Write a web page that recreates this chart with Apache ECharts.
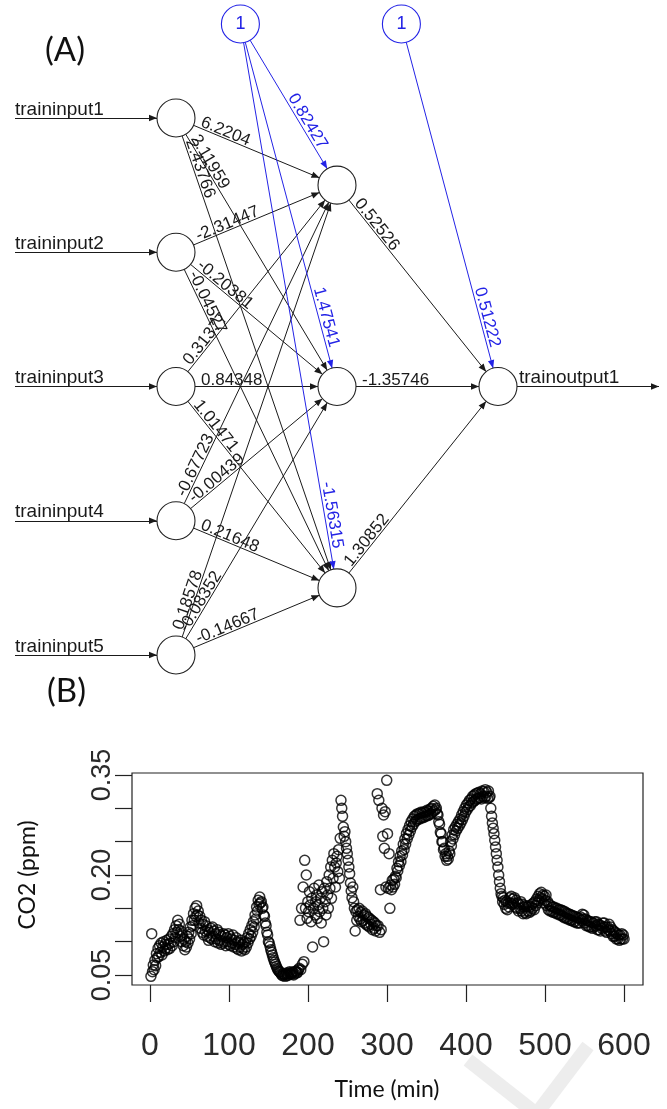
<!DOCTYPE html>
<html>
<head>
<meta charset="utf-8">
<title>Neural network and CO2 scatter</title>
<script src="https://cdn.jsdelivr.net/npm/echarts@6.0.0/dist/echarts.min.js"></script>
<style>
  html, body { margin: 0; padding: 0; background: #fff; }
  #chart { width: 667px; height: 1109px; }
</style>
</head>
<body>
<div id="chart"></div>
<script>
// ---- (A) network: layout in layer units, weights as printed ----
const inputNames = ['traininput1', 'traininput2', 'traininput3', 'traininput4', 'traininput5'];
const outputName = 'trainoutput1';
const inputRows = [0, 1, 2, 3, 4];
const hiddenRows = [0.5, 2, 3.5];
const outputRow = 2;
const layerCols = [0, 1, 2];      // input, hidden, output
const biasCols = [0.4, 1.4];
const biasRow = -0.7;
const entryCol = -1;
const exitCol = 3;

// rows: input node, columns: hidden node
const inputHiddenWeights = [
  [6.2204, 2.11959, 2.43766],
  [-2.31447, -0.20381, -0.04527],
  [0.31377, 0.84348, 1.01471],
  [-0.67723, -0.00439, 0.21648],
  [0.18578, -0.08352, -0.14667]
];
const biasHiddenWeights = [0.82427, 1.47541, -1.56315];
const hiddenOutputWeights = [0.52526, -1.35746, 1.30852];
const biasOutputWeight = 0.51222;

// ---- (B) CO2, one reading per minute ----
const timeMin = [
  0, 1, 2, 3, 4, 5, 6, 7, 8, 9, 10, 11, 12, 13, 14, 15, 16, 17, 18, 19,
  20, 21, 22, 23, 24, 25, 26, 27, 28, 29, 30, 31, 32, 33, 34, 35, 36, 37, 38, 39,
  40, 41, 42, 43, 44, 45, 46, 47, 48, 49, 50, 51, 52, 53, 54, 55, 56, 57, 58, 59,
  60, 61, 62, 63, 64, 65, 66, 67, 68, 69, 70, 71, 72, 73, 74, 75, 76, 77, 78, 79,
  80, 81, 82, 83, 84, 85, 86, 87, 88, 89, 90, 91, 92, 93, 94, 95, 96, 97, 98, 99,
  100, 101, 102, 103, 104, 105, 106, 107, 108, 109, 110, 111, 112, 113, 114, 115, 116, 117, 118, 119,
  120, 121, 122, 123, 124, 125, 126, 127, 128, 129, 130, 131, 132, 133, 134, 135, 136, 137, 138, 139,
  140, 141, 142, 143, 144, 145, 146, 147, 148, 149, 150, 151, 152, 153, 154, 155, 156, 157, 158, 159,
  160, 161, 162, 163, 164, 165, 166, 167, 168, 169, 170, 171, 172, 173, 174, 175, 176, 177, 178, 179,
  180, 181, 182, 183, 184, 185, 186, 187, 188, 189, 190, 191, 192, 193, 194, 195, 196, 197, 198, 199,
  200, 201, 202, 203, 204, 205, 206, 207, 208, 209, 210, 211, 212, 213, 214, 215, 216, 217, 218, 219,
  220, 221, 222, 223, 224, 225, 226, 227, 228, 229, 230, 231, 232, 233, 234, 235, 236, 237, 238, 239,
  240, 241, 242, 243, 244, 245, 246, 247, 248, 249, 250, 251, 252, 253, 254, 255, 256, 257, 258, 259,
  260, 261, 262, 263, 264, 265, 266, 267, 268, 269, 270, 271, 272, 273, 274, 275, 276, 277, 278, 279,
  280, 281, 282, 283, 284, 285, 286, 287, 288, 289, 290, 291, 292, 293, 294, 295, 296, 297, 298, 299,
  300, 301, 302, 303, 304, 305, 306, 307, 308, 309, 310, 311, 312, 313, 314, 315, 316, 317, 318, 319,
  320, 321, 322, 323, 324, 325, 326, 327, 328, 329, 330, 331, 332, 333, 334, 335, 336, 337, 338, 339,
  340, 341, 342, 343, 344, 345, 346, 347, 348, 349, 350, 351, 352, 353, 354, 355, 356, 357, 358, 359,
  360, 361, 362, 363, 364, 365, 366, 367, 368, 369, 370, 371, 372, 373, 374, 375, 376, 377, 378, 379,
  380, 381, 382, 383, 384, 385, 386, 387, 388, 389, 390, 391, 392, 393, 394, 395, 396, 397, 398, 399,
  400, 401, 402, 403, 404, 405, 406, 407, 408, 409, 410, 411, 412, 413, 414, 415, 416, 417, 418, 419,
  420, 421, 422, 423, 424, 425, 426, 427, 428, 429, 430, 431, 432, 433, 434, 435, 436, 437, 438, 439,
  440, 441, 442, 443, 444, 445, 446, 447, 448, 449, 450, 451, 452, 453, 454, 455, 456, 457, 458, 459,
  460, 461, 462, 463, 464, 465, 466, 467, 468, 469, 470, 471, 472, 473, 474, 475, 476, 477, 478, 479,
  480, 481, 482, 483, 484, 485, 486, 487, 488, 489, 490, 491, 492, 493, 494, 495, 496, 497, 498, 499,
  500, 501, 502, 503, 504, 505, 506, 507, 508, 509, 510, 511, 512, 513, 514, 515, 516, 517, 518, 519,
  520, 521, 522, 523, 524, 525, 526, 527, 528, 529, 530, 531, 532, 533, 534, 535, 536, 537, 538, 539,
  540, 541, 542, 543, 544, 545, 546, 547, 548, 549, 550, 551, 552, 553, 554, 555, 556, 557, 558, 559,
  560, 561, 562, 563, 564, 565, 566, 567, 568, 569, 570, 571, 572, 573, 574, 575, 576, 577, 578, 579,
  580, 581, 582, 583, 584, 585, 586, 587, 588, 589, 590, 591, 592, 593, 594, 595, 596, 597, 598, 599,
  600
];
const co2Ppm = [
  0.048, 0.112, 0.055, 0.065, 0.058, 0.072, 0.064, 0.082, 0.076, 0.090,
  0.078, 0.094, 0.084, 0.098, 0.080, 0.092, 0.100, 0.086, 0.096, 0.090,
  0.102, 0.088, 0.096, 0.104, 0.090, 0.098, 0.108, 0.094, 0.112, 0.100,
  0.118, 0.106, 0.124, 0.114, 0.132, 0.118, 0.126, 0.108, 0.116, 0.100,
  0.110, 0.094, 0.104, 0.088, 0.100, 0.092, 0.108, 0.098, 0.114, 0.104,
  0.122, 0.112, 0.132, 0.124, 0.142, 0.132, 0.150, 0.138, 0.154, 0.140,
  0.146, 0.128, 0.138, 0.120, 0.132, 0.114, 0.126, 0.110, 0.130, 0.116,
  0.124, 0.108, 0.118, 0.102, 0.114, 0.106, 0.120, 0.104, 0.122, 0.108,
  0.116, 0.100, 0.112, 0.104, 0.118, 0.098, 0.114, 0.102, 0.110, 0.096,
  0.108, 0.098, 0.112, 0.100, 0.110, 0.094, 0.106, 0.100, 0.112, 0.096,
  0.108, 0.094, 0.104, 0.098, 0.110, 0.092, 0.102, 0.096, 0.106, 0.090,
  0.100, 0.088, 0.098, 0.092, 0.102, 0.086, 0.096, 0.090, 0.098, 0.088,
  0.100, 0.092, 0.106, 0.098, 0.112, 0.104, 0.118, 0.108, 0.124, 0.114,
  0.130, 0.122, 0.140, 0.134, 0.152, 0.146, 0.162, 0.156, 0.167, 0.158,
  0.160, 0.150, 0.152, 0.140, 0.138, 0.128, 0.124, 0.114, 0.110, 0.100,
  0.098, 0.093, 0.088, 0.084, 0.080, 0.076, 0.072, 0.069, 0.066, 0.063,
  0.060, 0.058, 0.056, 0.055, 0.054, 0.052, 0.050, 0.049, 0.052, 0.050,
  0.048, 0.051, 0.053, 0.049, 0.050, 0.053, 0.055, 0.052, 0.051, 0.054,
  0.054, 0.050, 0.052, 0.055, 0.056, 0.053, 0.054, 0.058, 0.060, 0.132,
  0.058, 0.150, 0.066, 0.182, 0.070, 0.222, 0.150, 0.200, 0.135, 0.160,
  0.145, 0.175, 0.155, 0.130, 0.165, 0.092, 0.150, 0.180, 0.140, 0.160,
  0.170, 0.135, 0.155, 0.185, 0.145, 0.165, 0.128, 0.175, 0.150, 0.100,
  0.180, 0.160, 0.140, 0.190, 0.170, 0.150, 0.200, 0.180, 0.212, 0.165,
  0.222, 0.195, 0.232, 0.212, 0.182, 0.218, 0.228, 0.205, 0.238, 0.195,
  0.255, 0.312, 0.300, 0.288, 0.272, 0.258, 0.265, 0.250, 0.240, 0.232,
  0.222, 0.212, 0.202, 0.188, 0.176, 0.166, 0.182, 0.160, 0.150, 0.116,
  0.145, 0.132, 0.148, 0.138, 0.150, 0.134, 0.144, 0.130, 0.146, 0.132,
  0.140, 0.128, 0.142, 0.126, 0.138, 0.124, 0.136, 0.122, 0.134, 0.126,
  0.132, 0.118, 0.130, 0.120, 0.128, 0.116, 0.124, 0.322, 0.124, 0.312,
  0.114, 0.178, 0.118, 0.300, 0.258, 0.290, 0.240, 0.295, 0.182, 0.342,
  0.262, 0.180, 0.232, 0.150, 0.185, 0.178, 0.192, 0.182, 0.194, 0.186,
  0.198, 0.196, 0.210, 0.206, 0.220, 0.214, 0.228, 0.220, 0.236, 0.230,
  0.246, 0.238, 0.254, 0.246, 0.262, 0.254, 0.268, 0.260, 0.274, 0.266,
  0.280, 0.272, 0.284, 0.276, 0.288, 0.280, 0.290, 0.282, 0.292, 0.284,
  0.292, 0.284, 0.294, 0.286, 0.293, 0.286, 0.295, 0.287, 0.294, 0.289,
  0.297, 0.289, 0.296, 0.290, 0.299, 0.292, 0.300, 0.294, 0.303, 0.296,
  0.305, 0.298, 0.300, 0.292, 0.290, 0.280, 0.276, 0.264, 0.262, 0.250,
  0.250, 0.238, 0.240, 0.228, 0.232, 0.222, 0.228, 0.224, 0.236, 0.232,
  0.250, 0.244, 0.260, 0.254, 0.268, 0.260, 0.272, 0.266, 0.276, 0.270,
  0.280, 0.274, 0.284, 0.278, 0.290, 0.283, 0.295, 0.288, 0.300, 0.294,
  0.305, 0.298, 0.308, 0.302, 0.312, 0.304, 0.314, 0.308, 0.318, 0.310,
  0.320, 0.312, 0.322, 0.314, 0.323, 0.315, 0.324, 0.316, 0.322, 0.314,
  0.326, 0.318, 0.325, 0.316, 0.328, 0.318, 0.324, 0.315, 0.326, 0.316,
  0.318, 0.300, 0.288, 0.278, 0.270, 0.262, 0.252, 0.242, 0.232, 0.222,
  0.212, 0.200, 0.190, 0.180, 0.172, 0.168, 0.160, 0.166, 0.156, 0.162,
  0.150, 0.160, 0.148, 0.158, 0.152, 0.166, 0.158, 0.168, 0.156, 0.164,
  0.158, 0.166, 0.152, 0.162, 0.150, 0.158, 0.146, 0.156, 0.150, 0.160,
  0.146, 0.156, 0.142, 0.152, 0.144, 0.154, 0.142, 0.152, 0.146, 0.154,
  0.144, 0.152, 0.146, 0.156, 0.150, 0.158, 0.148, 0.160, 0.154, 0.164,
  0.158, 0.168, 0.162, 0.172, 0.166, 0.174, 0.164, 0.170, 0.158, 0.168,
  0.162, 0.170, 0.154, 0.160, 0.148, 0.156, 0.146, 0.154, 0.146, 0.152,
  0.144, 0.152, 0.144, 0.150, 0.142, 0.150, 0.142, 0.148, 0.140, 0.148,
  0.140, 0.147, 0.138, 0.146, 0.136, 0.145, 0.136, 0.143, 0.134, 0.142,
  0.134, 0.141, 0.132, 0.140, 0.132, 0.139, 0.130, 0.138, 0.130, 0.137,
  0.128, 0.136, 0.128, 0.135, 0.128, 0.137, 0.132, 0.141, 0.134, 0.140,
  0.128, 0.134, 0.124, 0.132, 0.124, 0.131, 0.122, 0.130, 0.122, 0.129,
  0.120, 0.128, 0.122, 0.130, 0.124, 0.130, 0.118, 0.126, 0.118, 0.125,
  0.116, 0.124, 0.120, 0.128, 0.122, 0.128, 0.116, 0.122, 0.114, 0.122,
  0.118, 0.126, 0.116, 0.122, 0.112, 0.118, 0.108, 0.116, 0.108, 0.114,
  0.104, 0.112, 0.104, 0.110, 0.102, 0.110, 0.104, 0.112, 0.104, 0.110,
  0.104
];
const yTickLabels = ['0.05', '0.20', '0.35'];

const BLUE = '#2323e6';
const INK = '#1a1a1a';
const TICK_FONT = "'Liberation Sans', Arial, sans-serif";
const TITLE_FONT = "Lato, 'Open Sans', sans-serif";
// triangle head whose tip sits at the symbol centre
const ARROW = 'path://M0,0L0,0M20,20L20,20M10,10L14,20L6,20Z';

// build graph nodes
const nodes = [];
inputNames.forEach((name, i) => {
  nodes.push({ name: 'entry' + i, value: [entryCol, inputRows[i]], symbol: 'none', symbolSize: 0 });
  nodes.push({ name: 'in' + i, value: [layerCols[0], inputRows[i]] });
});
hiddenRows.forEach((r, j) => nodes.push({ name: 'h' + j, value: [layerCols[1], r] }));
nodes.push({ name: 'out', value: [layerCols[2], outputRow] });
nodes.push({ name: 'exit', value: [exitCol, outputRow], symbol: 'none', symbolSize: 0 });
biasCols.forEach((c, k) => nodes.push({
  name: 'b' + k, value: [c, biasRow],
  itemStyle: { borderColor: BLUE },
  label: { show: true, formatter: '1', color: BLUE, fontSize: 18, fontFamily: 'Arial' }
}));

function edge(source, target, text, color, position, distance, fontSize) {
  return {
    source, target,
    symbol: ['none', ARROW], symbolSize: [0, 16],
    lineStyle: { color, width: 1, opacity: 1, curveness: 0 },
    label: {
      show: true, formatter: String(text), position, distance,
      color, fontSize: fontSize || 17, fontFamily: 'Arial'
    }
  };
}

const links = [];
inputNames.forEach((name, i) => links.push(edge('entry' + i, 'in' + i, name, INK, 'insideStartTop', [0, -1], 19)));
inputHiddenWeights.forEach((row, i) => row.forEach((w, j) =>
  links.push(edge('in' + i, 'h' + j, w, INK, 'insideStartTop', [25, -2]))));
biasHiddenWeights.forEach((w, j) => links.push(edge('b0', 'h' + j, w, BLUE, 'insideEndTop', [20, -1])));
hiddenOutputWeights.forEach((w, j) => links.push(edge('h' + j, 'out', w, INK, 'insideStartTop', [25, -2])));
links.push(edge('b1', 'out', biasOutputWeight, BLUE, 'insideEndTop', [20, -1]));
links.push(edge('out', 'exit', outputName, INK, 'insideStartTop', [21, -1], 19));

const chart = echarts.init(document.getElementById('chart'));
chart.setOption({
  animation: false,
  backgroundColor: '#fff',
  graphic: [
    { type: 'text', x: 45, y: 50, style: { text: '(A)', fontSize: 33, fontFamily: TITLE_FONT, fill: '#111', verticalAlign: 'middle' } },
    { type: 'text', x: 47, y: 691, style: { text: '(B)', fontSize: 33, fontFamily: TITLE_FONT, fill: '#111', verticalAlign: 'middle' } },
    // faint watermark stroke at the bottom
    { type: 'polyline', silent: true, z: -1, shape: { points: [[468, 1060], [534, 1112]] }, style: { stroke: '#ededed', lineWidth: 14, fill: null } },
    { type: 'polyline', silent: true, z: -1, shape: { points: [[588, 1046], [538, 1112]] }, style: { stroke: '#ededed', lineWidth: 14, fill: null } }
  ],
  grid: [
    { left: 15, top: 10.6, width: 644, height: 671.25 },
    { left: 132, top: 773, width: 511, height: 212, show: true, borderColor: '#222', borderWidth: 1.2, backgroundColor: 'transparent' },
    { left: 150, top: 773, width: 474, height: 212 },
    { left: 132, top: 775, width: 511, height: 200 }
  ],
  xAxis: [
    { gridIndex: 0, type: 'value', min: entryCol, max: exitCol, show: false },
    { gridIndex: 1, type: 'value', min: -24, max: 624, show: false },
    {
      gridIndex: 2, type: 'value', min: 0, max: 600, interval: 100,
      axisLine: { show: false },
      axisTick: { show: true, inside: false, length: 17, lineStyle: { color: '#222', width: 1.2 } },
      axisLabel: { show: true, fontSize: 32, fontFamily: TICK_FONT, color: '#2a2a2a', margin: 45 },
      splitLine: { show: false },
      name: 'Time (min)', nameLocation: 'middle', nameGap: 93,
      nameTextStyle: { fontSize: 23, fontFamily: TITLE_FONT, color: '#111' }
    },
    { gridIndex: 3, type: 'value', show: false, min: 0, max: 1 }
  ],
  yAxis: [
    { gridIndex: 0, type: 'value', min: -0.8, max: 4.2, inverse: true, show: false },
    { gridIndex: 1, type: 'value', min: 0.035, max: 0.353, show: false },
    { gridIndex: 2, type: 'value', show: false, min: 0, max: 1 },
    {
      gridIndex: 3, type: 'value', min: 0.05, max: 0.35, interval: 0.05,
      axisLine: { show: false },
      axisTick: { show: true, inside: false, length: 17, lineStyle: { color: '#222', width: 1.2 } },
      axisLabel: {
        show: true, rotate: 90, fontSize: 27, fontFamily: TICK_FONT, color: '#2a2a2a', margin: 16,
        formatter: v => (yTickLabels.includes(v.toFixed(2)) ? v.toFixed(2) : '')
      },
      splitLine: { show: false },
      name: 'CO2 (ppm)', nameLocation: 'middle', nameGap: 93, nameRotate: 90,
      nameTextStyle: { fontSize: 23, fontFamily: TITLE_FONT, color: '#111' }
    }
  ],
  series: [
    {
      type: 'graph',
      coordinateSystem: 'cartesian2d',
      xAxisIndex: 0, yAxisIndex: 0,
      silent: true,
      symbol: 'circle',
      symbolSize: 38,
      itemStyle: { color: '#fff', borderColor: '#222', borderWidth: 1.1 },
      label: { show: false },
      data: nodes,
      links: links
    },
    {
      type: 'scatter',
      xAxisIndex: 1, yAxisIndex: 1,
      silent: true,
      symbol: 'circle',
      symbolSize: 10,
      itemStyle: { color: 'rgba(0,0,0,0)', borderColor: '#000', borderWidth: 1.5 },
      data: timeMin.map((t, i) => [t, co2Ppm[i]])
    }
  ]
});
</script>
</body>
</html>
